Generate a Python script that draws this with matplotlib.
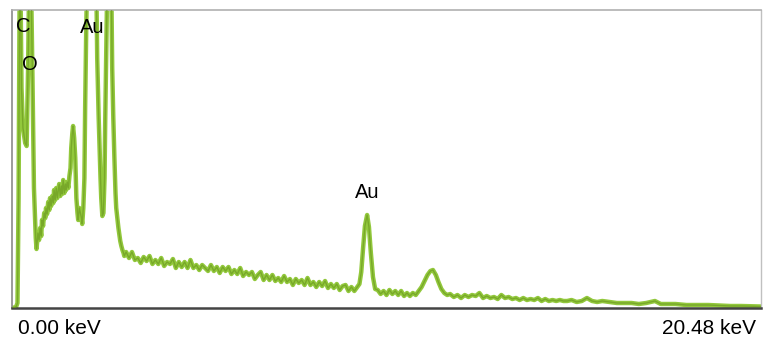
import matplotlib
matplotlib.use("Agg")
import matplotlib.pyplot as plt

plt.rcParams['font.family'] = ['Liberation Sans', 'DejaVu Sans']

# ---- EDS spectrum data: energy (keV) and counts (arb. units; off-scale peaks > 298) ----
# C, O, Si and Au M region
energy_low = [
    0.00, 0.11, 0.15, 0.18, 0.21, 0.23, 0.26, 0.30, 0.36, 0.40, 0.44, 0.47, 0.52,
    0.56, 0.60, 0.65, 0.67, 0.71, 0.74, 0.77, 0.80, 0.82, 0.85, 0.88, 0.91, 0.93,
    0.96, 0.99, 1.02, 1.04, 1.07, 1.10, 1.13, 1.15, 1.18, 1.21, 1.24, 1.26, 1.29,
    1.32, 1.35, 1.37, 1.40, 1.43, 1.46, 1.48, 1.51, 1.54, 1.57, 1.60, 1.62, 1.65,
    1.67, 1.70, 1.73, 1.76, 1.79, 1.81, 1.84, 1.87, 1.90, 1.92, 1.95, 1.98, 2.00,
    2.03, 2.06, 2.14, 2.22, 2.30, 2.33, 2.37, 2.42, 2.44, 2.47, 2.50, 2.53, 2.55,
    2.58, 2.61, 2.66, 2.71, 2.74, 2.77, 2.80, 2.83, 2.85, 2.88, 2.91, 2.94, 2.96,
    2.99, 3.02, 3.05, 3.07,
]
counts_low = [
    0, 1, 5, 110, 330, 330, 220, 180, 165, 162, 240, 330, 330,
    230, 120, 70, 59, 75, 68, 80, 72, 88, 82, 95, 90, 100,
    94, 106, 98, 110, 102, 112, 105, 118, 108, 120, 110, 116, 124,
    112, 122, 114, 128, 115, 124, 118, 126, 120, 132, 140, 160, 175,
    182, 170, 150, 110, 95, 88, 100, 95, 90, 84, 100, 130, 200,
    280, 340, 370, 370, 340, 250, 190, 130, 110, 92, 95, 130, 190,
    260, 340, 390, 340, 240, 190, 150, 115, 100, 90, 80, 72, 67,
    62, 58, 55, 52,
]

# Bremsstrahlung background up to the Au L-alpha line
energy_bg = [
    3.12, 3.20, 3.28, 3.36, 3.44, 3.52, 3.60, 3.68, 3.76, 3.84,
    3.92, 4.00, 4.08, 4.16, 4.24, 4.32, 4.40, 4.48, 4.56, 4.64,
    4.72, 4.80, 4.88, 4.96, 5.04, 5.12, 5.20, 5.28, 5.36, 5.44,
    5.52, 5.60, 5.68, 5.76, 5.84, 5.92, 6.00, 6.08, 6.16, 6.24,
    6.32, 6.40, 6.48, 6.56, 6.64, 6.72, 6.80, 6.88, 6.96, 7.04,
    7.12, 7.20, 7.28, 7.36, 7.44, 7.52, 7.60, 7.68, 7.76, 7.84,
    7.92, 8.00, 8.08, 8.16, 8.24, 8.32, 8.40, 8.48, 8.56, 8.64,
    8.72, 8.80, 8.88, 8.96, 9.04, 9.12, 9.20, 9.28, 9.36, 9.44,
]
counts_bg = [
    56, 50, 56, 48, 50, 45, 51, 47, 52, 44,
    48, 44, 50, 42, 46, 44, 49, 40, 46, 41,
    46, 40, 48, 40, 43, 38, 43, 40, 37, 43,
    37, 41, 35, 41, 37, 41, 34, 38, 34, 40,
    32, 36, 33, 36, 29, 33, 36, 28, 33, 28,
    33, 27, 30, 26, 32, 26, 29, 23, 29, 25,
    28, 23, 30, 23, 26, 21, 26, 22, 27, 20,
    24, 20, 24, 18, 22, 23, 17, 21, 17, 21,
]

# Au L-alpha, background, Au L-beta
energy_aul = [
    9.50, 9.55, 9.60, 9.65, 9.71, 9.76, 9.81, 9.87, 9.93,
    10.00, 10.08, 10.16, 10.24, 10.32, 10.40, 10.48, 10.56, 10.64, 10.72,
    10.80, 10.88, 10.96, 11.04, 11.12, 11.20, 11.28, 11.36, 11.44, 11.51,
    11.59, 11.66, 11.74, 11.82, 11.90,
]
counts_aul = [
    24, 36, 60, 82, 93, 81, 56, 31, 19,
    18, 14, 17, 13, 18, 14, 17, 13, 17, 12,
    15, 12, 15, 13, 17, 21, 27, 33, 37, 38,
    33, 26, 19, 15, 13,
]

# High-energy tail
energy_tail = [
    11.98, 12.08, 12.18, 12.28, 12.38, 12.48, 12.58, 12.68, 12.78, 12.88,
    12.98, 13.08, 13.18, 13.28, 13.38, 13.48, 13.58, 13.68, 13.78, 13.88,
    13.98, 14.08, 14.18, 14.28, 14.38, 14.48, 14.58, 14.68, 14.78, 14.88,
    14.98, 15.08, 15.18, 15.30, 15.44, 15.58, 15.72, 15.86, 16.00, 16.14,
    16.34, 16.54, 16.74, 16.94, 17.14, 17.34, 17.58, 17.74, 17.94, 18.14,
    18.44, 18.74, 19.04, 19.34, 19.64, 19.94, 20.48,
]
counts_tail = [
    14, 11, 13, 10, 13, 11, 13, 12, 15, 10,
    12, 10, 11, 9, 13, 10, 11, 9, 10, 8,
    10, 8, 9, 8, 10, 7, 9, 7, 8, 7,
    8, 7, 7, 8, 6, 7, 10, 7, 6, 7,
    6, 5, 5, 5, 4, 5, 7, 4, 4, 4,
    3, 3, 3, 2.5, 2, 2, 1.5,
]

energy_kev = energy_low + energy_bg + energy_aul + energy_tail
counts = counts_low + counts_bg + counts_aul + counts_tail

peak_labels = ['C', 'O', 'Au', 'Au']
peak_label_kev = [0.31, 0.49, 2.20, 9.70]
peak_label_counts = [276, 238, 275, 110]

x_min_label = '0.00 keV'
x_max_label = '20.48 keV'

fig = plt.figure(figsize=(7.63, 3.41), dpi=100)
ax = fig.add_axes([12 / 763, 33 / 341, 749 / 763, 298.5 / 341])

ax.plot(energy_kev, counts, color='#92c83c', lw=3.2, solid_joinstyle='round', zorder=2)
ax.plot(energy_kev, counts, color='#6d9b22', lw=1.0, alpha=0.7, zorder=3)

ax.set_xlim(0, 20.48)
ax.set_ylim(0, 298.5)
ax.set_xticks([])
ax.set_yticks([])

for side, col, lw in [('left', '#8a8a8a', 1.2), ('top', '#b0b0b0', 1.2),
                      ('right', '#c0c0c0', 1.0), ('bottom', '#444444', 1.8)]:
    ax.spines[side].set_color(col)
    ax.spines[side].set_linewidth(lw)

for lab, xk, yc in zip(peak_labels, peak_label_kev, peak_label_counts):
    ax.text(xk, yc, lab, ha='center', va='baseline', fontsize=14.5, color='black', zorder=5)

fig.text(18 / 763, (341 - 334) / 341, x_min_label, ha='left', va='baseline', fontsize=15)
fig.text(756 / 763, (341 - 334) / 341, x_max_label, ha='right', va='baseline', fontsize=15)

fig.savefig('out.png', dpi=100)
